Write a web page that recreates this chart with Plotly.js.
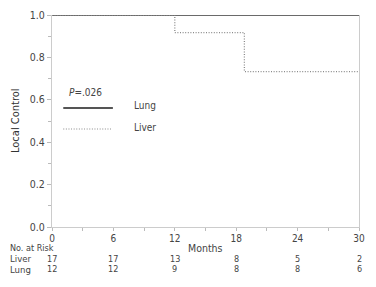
<!DOCTYPE html>
<html><head><meta charset="utf-8">
<script src="https://cdn.plot.ly/plotly-3.0.1.min.js"></script>
<style>html,body{margin:0;padding:0;background:#fff;}</style>
</head><body><div id="chart" style="width:376px;height:287px;"></div>
<script>
var riskMonths = [0, 6, 12, 18, 24, 30];
var riskLiver = [17, 17, 13, 8, 5, 2];
var riskLung = [12, 12, 9, 8, 8, 6];
var lungTime = [0, 30];
var lungControl = [1, 1];
var liverTime = [0, 12, 18.8, 30];
var liverControl = [1, 0.917, 0.733, 0.733];
var pValueText = '<i>P</i>=.026';

var FONT = '"DejaVu Sans Condensed", "DejaVu Sans", sans-serif';
var TXT = '#444';

var traces = [
  {x: lungTime, y: lungControl, mode: 'lines', line: {color: '#6a6a6a', width: 2.2, shape: 'hv'}, cliponaxis: false, showlegend: false, hoverinfo: 'skip'},
  {x: liverTime, y: liverControl, mode: 'lines', line: {color: '#8a8a8a', width: 1.3, dash: '1px,1.6px', shape: 'hv'}, cliponaxis: false, showlegend: false, hoverinfo: 'skip'}
];

function py(p) { return (227 - p) / 212; }
function px(p) { return (p - 52) / 307; }

var ann = [];
riskMonths.forEach(function (m, i) {
  ann.push({x: m, xref: 'x', y: py(258.5), yref: 'paper', text: String(riskLiver[i]), showarrow: false, font: {family: FONT, size: 9, color: TXT}, xanchor: 'center', yanchor: 'middle', borderpad: 0});
  ann.push({x: m, xref: 'x', y: py(269), yref: 'paper', text: String(riskLung[i]), showarrow: false, font: {family: FONT, size: 9, color: TXT}, xanchor: 'center', yanchor: 'middle', borderpad: 0});
});
ann.push({x: px(9), xref: 'paper', y: py(247.5), yref: 'paper', xanchor: 'left', yanchor: 'middle', text: 'No. at Risk', showarrow: false, font: {family: FONT, size: 9, color: TXT}, borderpad: 0});
ann.push({x: px(9), xref: 'paper', y: py(258.5), yref: 'paper', xanchor: 'left', yanchor: 'middle', text: 'Liver', showarrow: false, font: {family: FONT, size: 9.5, color: TXT}, borderpad: 0});
ann.push({x: px(9), xref: 'paper', y: py(269), yref: 'paper', xanchor: 'left', yanchor: 'middle', text: 'Lung', showarrow: false, font: {family: FONT, size: 9.5, color: TXT}, borderpad: 0});
ann.push({x: 15, xref: 'x', y: py(248), yref: 'paper', xanchor: 'center', yanchor: 'middle', text: 'Months', showarrow: false, font: {family: FONT, size: 10.5, color: TXT}, borderpad: 0});
ann.push({x: px(15), xref: 'paper', y: 0.5, yref: 'paper', xanchor: 'center', yanchor: 'middle', textangle: -90, text: 'Local Control', showarrow: false, font: {family: FONT, size: 11, color: '#333'}});
ann.push({x: 1.5, xref: 'x', y: py(92), yref: 'paper', xanchor: 'left', yanchor: 'middle', text: pValueText, showarrow: false, font: {family: FONT, size: 10, color: TXT}});
ann.push({x: 7.8, xref: 'x', y: py(106), yref: 'paper', xanchor: 'left', yanchor: 'middle', text: 'Lung', showarrow: false, font: {family: FONT, size: 10, color: TXT}});
ann.push({x: 7.8, xref: 'x', y: py(127), yref: 'paper', xanchor: 'left', yanchor: 'middle', text: 'Liver', showarrow: false, font: {family: FONT, size: 10, color: TXT}});

var shapes = [
  {type: 'line', xref: 'x', yref: 'paper', x0: 1.1, x1: 5.95, y0: py(108), y1: py(108), line: {color: '#555', width: 2.2}},
  {type: 'line', xref: 'x', yref: 'paper', x0: 1.1, x1: 5.85, y0: py(129), y1: py(129), line: {color: '#8a8a8a', width: 1.2, dash: '1px,1.6px'}}
];

var layout = {
  width: 376, height: 287,
  margin: {l: 52, r: 17, t: 15, b: 60, pad: 0},
  paper_bgcolor: '#fff', plot_bgcolor: '#fff',
  showlegend: false,
  font: {family: FONT, color: TXT, size: 10},
  xaxis: {range: [0, 30], tickvals: riskMonths, ticks: 'outside', ticklen: 3, tickcolor: '#bbb',
    ticklabelstandoff: -1,
    showline: true, linecolor: '#ccc', linewidth: 1, zeroline: false, showgrid: false,
    tickfont: {family: FONT, size: 10, color: TXT},
    minor: {dtick: 3, ticks: 'outside', ticklen: 3, tickcolor: '#bbb'}},
  yaxis: {range: [0, 1], dtick: 0.2, tickformat: '.1f', ticks: 'outside', ticklen: 4, tickcolor: '#bbb',
    showline: true, mirror: true, linecolor: '#ccc', linewidth: 1, zeroline: false, showgrid: false,
    tickfont: {family: FONT, size: 10.5, color: TXT},
    minor: {dtick: 0.1, ticks: 'outside', ticklen: 3, tickcolor: '#bbb'}},
  annotations: ann,
  shapes: shapes
};

Plotly.newPlot('chart', traces, layout, {staticPlot: true, displayModeBar: false});
</script></body></html>
